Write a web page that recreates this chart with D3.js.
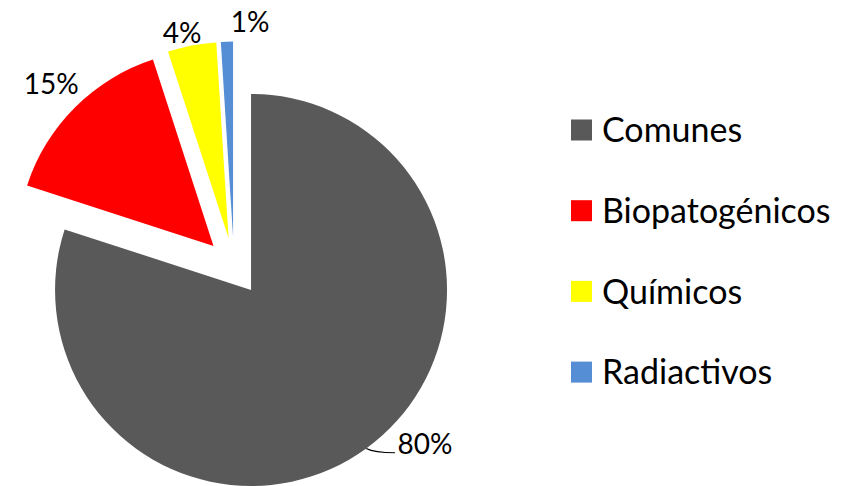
<!DOCTYPE html>
<html>
<head>
<meta charset="utf-8">
<script src="https://cdn.jsdelivr.net/npm/d3@7"></script>
<style>
  body { margin: 0; background: #fff; }
  svg { display: block; font-family: Lato, "Open Sans", sans-serif; }
</style>
</head>
<body>
<svg width="856" height="486"></svg>
<script>
// data
let categories = ["Comunes", "Biopatogénicos", "Químicos", "Radiactivos"];
let values = [80, 15, 4, 1];
let colors = ["#595959", "#ff0000", "#ffff00", "#558ed5"];

let svg = d3.select("svg");

let aux = {
  cx: 234,
  cy: 266.5,
  r: 196,
  explode: 29,
  labelR: 250,
};

// hand nudges for the labels (Excel best fit)
let labelNudge = [
  [44, -25],
  [-6, -6],
  [-5, 12],
  [24, 5],
];

let pie = d3.pie().sort(null).value((d) => d);
let arcs = pie(values);
let total = d3.sum(values);
let arc = d3.arc().innerRadius(0).outerRadius(aux.r);

let mid = (d) => (d.startAngle + d.endAngle) / 2;
let offs = (d, k) => [Math.sin(mid(d)) * k, -Math.cos(mid(d)) * k];

let g = svg.append("g").attr("transform", `translate(${aux.cx},${aux.cy})`);

g.selectAll("path.slice")
  .data(arcs)
  .join("path")
  .attr("class", "slice")
  .attr("d", arc)
  .attr("fill", (d, i) => colors[i])
  .attr("transform", (d) => {
    let [dx, dy] = offs(d, aux.explode);
    return `translate(${dx},${dy})`;
  });

// labels
let fmt = d3.format(".0%");
g.selectAll("text.lbl")
  .data(arcs)
  .join("text")
  .attr("class", "lbl")
  .attr("x", (d, i) => offs(d, aux.labelR)[0] + labelNudge[i][0])
  .attr("y", (d, i) => offs(d, aux.labelR)[1] + labelNudge[i][1])
  .attr("dy", "0.36em")
  .attr("text-anchor", "middle")
  .attr("font-size", 28)
  .attr("fill", "#000")
  .text((d) => fmt(d.value / total));

// leader line for the big slice
let big = arcs[0];
let [ex, ey] = offs(big, aux.explode);
let [px, py] = offs(big, aux.r);
let sx = px + ex,
  sy = py + ey;
let lx = offs(big, aux.labelR)[0] + labelNudge[0][0] - 30;
let ly = offs(big, aux.labelR)[1] + labelNudge[0][1] + 9;
g.append("path")
  .attr("d", `M${sx},${sy} Q${sx + 8},${ly} ${lx},${ly}`)
  .attr("fill", "none")
  .attr("stroke", "#000")
  .attr("stroke-width", 1.2);

// legend
let legend = svg
  .append("g")
  .selectAll("g")
  .data(categories)
  .join("g")
  .attr("transform", (d, i) => `translate(571,${130 + i * 80.7})`);

legend
  .append("rect")
  .attr("x", 0)
  .attr("y", -10.5)
  .attr("width", 21)
  .attr("height", 21)
  .attr("fill", (d, i) => colors[i]);

legend
  .append("text")
  .attr("x", 31)
  .attr("dy", "0.36em")
  .attr("font-size", 34)
  .attr("fill", "#000")
  .text((d) => d);
</script>
</body>
</html>
